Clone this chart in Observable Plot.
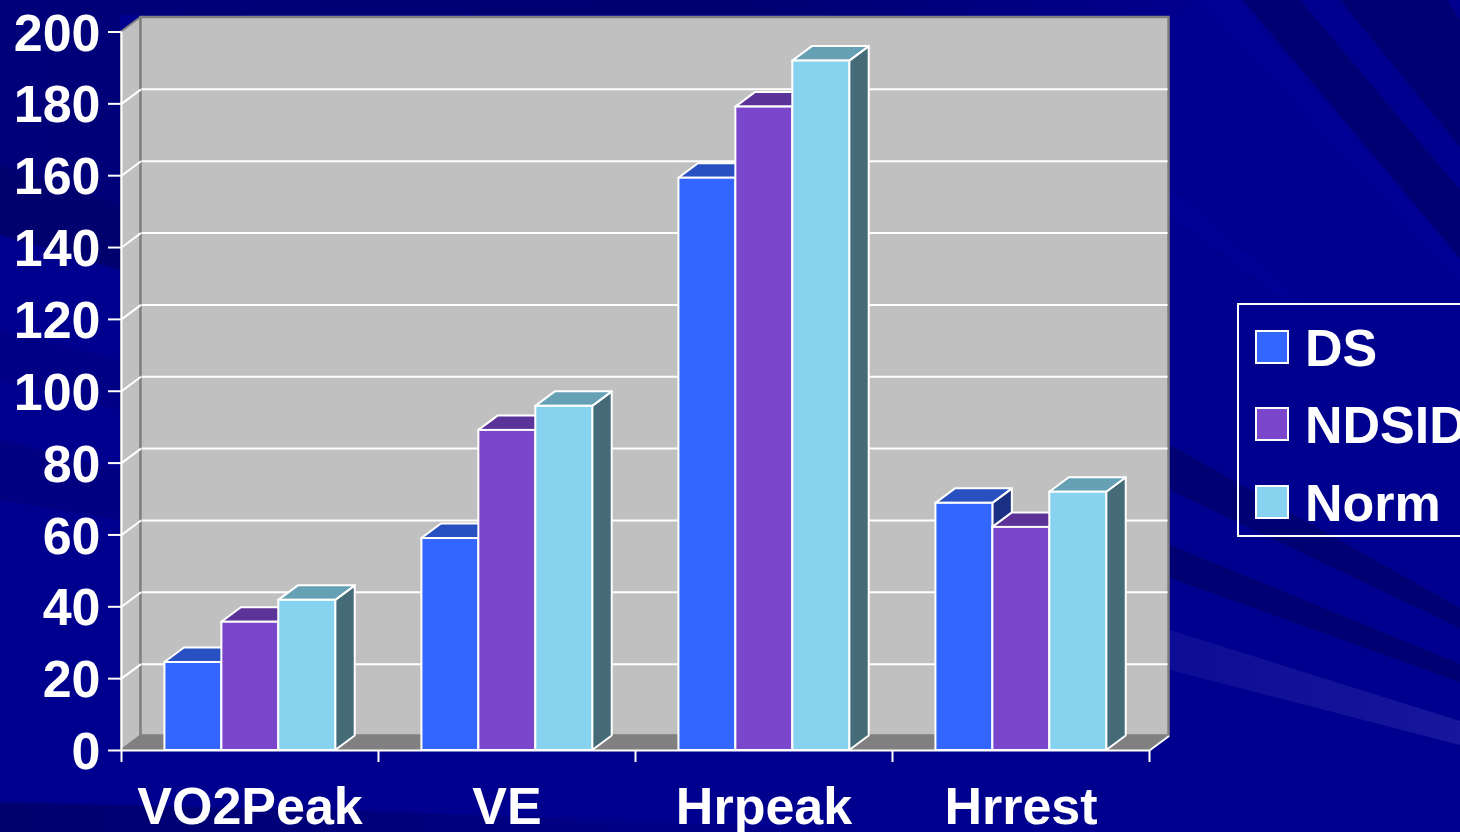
<!DOCTYPE html>
<html>
<head>
<meta charset="utf-8">
<script src="https://cdn.jsdelivr.net/npm/d3@7"></script>
<script src="https://cdn.jsdelivr.net/npm/@observablehq/plot@0.6"></script>
<style>
html,body{margin:0;padding:0;width:1460px;height:832px;overflow:hidden;background:#00008e;}
body{position:relative;font-family:"Liberation Sans",Arial,sans-serif;font-weight:bold;color:#fff;}
#bg{position:absolute;left:0;top:0;}
#chart{position:absolute;left:0;top:0;}
#chart svg{background:transparent;display:block;}
#legend{position:absolute;left:1237px;top:303px;width:300px;height:230px;border:2px solid #fff;box-sizing:content-box;}
.sw{position:absolute;left:16px;width:30px;height:30px;border:2px solid #fff;}
.lb{position:absolute;left:66px;font-size:52px;line-height:52px;white-space:nowrap;}
</style>
</head>
<body>
<svg id="bg" width="1460" height="832" xmlns="http://www.w3.org/2000/svg">
  <defs>
    <linearGradient id="tl" x1="0" y1="0" x2="1" y2="0"><stop offset="0" stop-color="#00007a"/><stop offset="0.6" stop-color="#000070"/><stop offset="1" stop-color="#00008e"/></linearGradient>
    <linearGradient id="bl" x1="0" y1="0" x2="1" y2="0"><stop offset="0" stop-color="#00006e"/><stop offset="1" stop-color="#00008e"/></linearGradient>
    <linearGradient id="lb" x1="0" y1="0" x2="1" y2="0"><stop offset="0" stop-color="#0c0c96"/><stop offset="1" stop-color="#17179c"/></linearGradient>
  </defs>
  <polygon fill="url(#tl)" points="0,0 1200,0 1170,15 120,15 120,260 0,225"/>
  <polygon fill="#00006e" points="0,165 120,205 120,270 0,235"/>
  <polygon fill="#000084" points="0,330 120,360 120,410 0,380"/>
  <polygon fill="#000080" points="0,440 120,470 120,520 0,500"/>
  <polygon fill="url(#bl)" points="0,802 400,812 900,832 0,832"/>
  <polygon fill="#000095" points="1200,0 1237,0 1460,260 1460,282"/>
  <polygon fill="#000072" points="1243,0 1300,0 1460,190 1460,258"/>
  <polygon fill="#000072" points="1340,0 1447,0 1460,20 1460,147"/>
  <polygon fill="#000094" points="1170,187 1170,215 1285,300 1300,300"/>
  <polygon fill="#000072" points="1170,445 1460,608 1460,628 1170,490"/>
  <polygon fill="#000072" points="1170,545 1460,664 1460,682 1170,578"/>
  <polygon fill="url(#lb)" points="1170,630 1460,721 1460,745 1170,670"/>
</svg>
<div id="chart"></div>
<div id="legend"></div>
<script>
const categories = ["VO2Peak", "VE", "Hrpeak", "Hrrest"];
const seriesNames = ["DS", "NDSID", "Norm"];
const dsValues = [24.5, 59, 159.3, 68.8];
const ndsidValues = [35.7, 89.1, 179.1, 62.1];
const normValues = [41.8, 95.8, 191.9, 71.9];
const yTicks = [0, 20, 40, 60, 80, 100, 120, 140, 160, 180, 200];
const xTicks = [0, 1, 2, 3, 4];
const frontColors = ["#3366ff", "#7a47cc", "#87d2ee"];
const topColors = ["#2850c0", "#5c3399", "#66a0b4"];
const sideColors = ["#1a3084", "#3d2666", "#456a78"];

const allValues = [dsValues, ndsidValues, normValues];
const depthX = 19.5 / 257;
const depthY = 14.5 / 3.59;
const groupInset = 0.169;
const barWidth = 0.2215;
const nGroups = categories.length;

const bars = [];
categories.forEach((c, i) => {
  seriesNames.forEach((s, k) => {
    const left = i + groupInset + k * barWidth;
    bars.push({left, right: left + barWidth, value: allValues[k][i], k});
  });
});

const barMarks = bars.flatMap(b => [
  Plot.area([
    {x: b.right, y1: 0, y2: b.value},
    {x: b.right + depthX, y1: depthY, y2: b.value + depthY}
  ], {x1: "x", y1: "y1", y2: "y2", fill: sideColors[b.k], stroke: "white", strokeWidth: 2}),
  Plot.area([
    {y: b.value, x1: b.left, x2: b.right},
    {y: b.value + depthY, x1: b.left + depthX, x2: b.right + depthX}
  ], {y1: "y", x1: "x1", x2: "x2", fill: topColors[b.k], stroke: "white", strokeWidth: 2}),
  Plot.rect([b], {x1: "left", x2: "right", y1: () => 0, y2: "value", fill: frontColors[b.k], stroke: "white", strokeWidth: 2})
]);

const plot = Plot.plot({
  width: 1460, height: 832,
  marginLeft: 121, marginRight: 311, marginTop: 31.5, marginBottom: 82,
  x: {type: "linear", domain: [0, nGroups], range: [121, 1149], axis: null},
  y: {domain: [0, 200], range: [750, 31.5], axis: null},
  style: {background: "transparent", color: "white", fontFamily: "'Liberation Sans',Arial,sans-serif", fontWeight: "bold", fontSize: "52px"},
  marks: [
    // floor
    Plot.area([
      {y: 0, x1: 0, x2: nGroups},
      {y: depthY, x1: depthX, x2: nGroups + depthX}
    ], {y1: "y", x1: "x1", x2: "x2", fill: "#808080"}),
    // left wall
    Plot.area([
      {x: 0, y1: 0, y2: 200},
      {x: depthX, y1: depthY, y2: 200 + depthY}
    ], {x1: "x", y1: "y1", y2: "y2", fill: "#c0c0c0", stroke: "#808080", strokeWidth: 2}),
    // back wall
    Plot.rect([0], {x1: () => depthX, x2: () => nGroups + depthX, y1: () => depthY, y2: () => 200 + depthY, fill: "#c0c0c0", stroke: "#808080", strokeWidth: 2.5}),
    // gridlines
    Plot.ruleY(yTicks.filter(t => t > 0 && t < 200), {y: d => d + depthY, x1: () => depthX + 0.004, x2: () => nGroups + depthX - 0.004, stroke: "white", strokeWidth: 2}),
    Plot.link(yTicks.filter(t => t > 0 && t < 200), {x1: () => 0, x2: () => depthX, y1: d => d, y2: d => d + depthY, stroke: "white", strokeWidth: 2}),
    // floor right edge
    Plot.link([0], {x1: () => nGroups, x2: () => nGroups + depthX, y1: () => 0, y2: () => depthY, stroke: "white", strokeWidth: 2}),
    // axes
    Plot.axisY(yTicks, {anchor: "left", tickSize: 13, stroke: "white", strokeWidth: 2, tickFormat: () => "", label: null}),
    Plot.axisY(yTicks, {anchor: "left", tickSize: 0, tickPadding: 21, dy: 2, fill: "white", label: null, tickFormat: d => String(d)}),
    Plot.axisX(xTicks, {anchor: "bottom", tickSize: 12, stroke: "white", strokeWidth: 2, tickFormat: () => "", label: null}),
    Plot.axisX(categories.map((c, i) => i + 0.5), {anchor: "bottom", tickSize: 0, tickPadding: 37, fill: "white", label: null, tickFormat: d => categories[Math.floor(d)]}),
    Plot.ruleX([0], {y1: () => 0, y2: () => 200, stroke: "white", strokeWidth: 2}),
    Plot.ruleY([0], {x1: () => 0, x2: () => nGroups, stroke: "white", strokeWidth: 2}),
    ...barMarks
  ]
});
document.getElementById("chart").appendChild(plot);

const legend = document.getElementById("legend");
const swTops = [25, 102, 180];
const lbTops = [17, 94, 172];
seriesNames.forEach((s, k) => {
  const sw = document.createElement("div");
  sw.className = "sw";
  sw.style.top = swTops[k] + "px";
  sw.style.background = frontColors[k];
  legend.appendChild(sw);
  const lb = document.createElement("div");
  lb.className = "lb";
  lb.style.top = lbTops[k] + "px";
  lb.textContent = s;
  legend.appendChild(lb);
});
</script>
</body>
</html>
